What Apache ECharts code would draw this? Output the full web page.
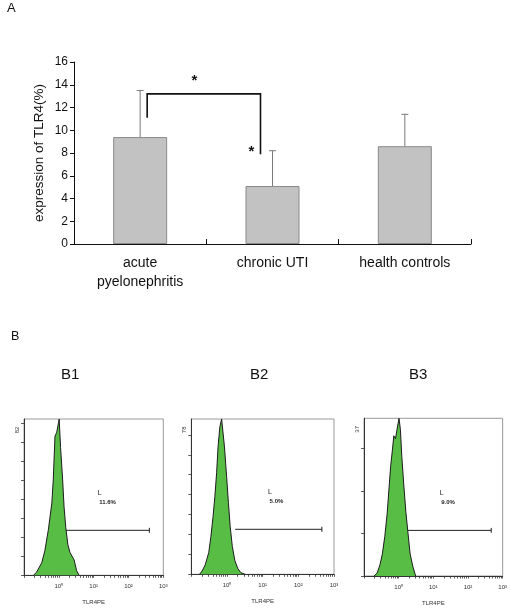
<!DOCTYPE html>
<html>
<head>
<meta charset="utf-8">
<script src="https://cdn.jsdelivr.net/npm/echarts@6/dist/echarts.min.js"></script>
<style>
html,body{margin:0;padding:0;background:#fff;}
#c{width:510px;height:610px;}
</style>
</head>
<body>
<div id="c"></div>
<script>
// ---------- Panel A data ----------
const categories = ['acute\npyelonephritis', 'chronic UTI', 'health controls'];
const means = [9.4, 5.1, 8.6];
const errors = [4.1, 3.1, 2.8];
const yTicksA = [0, 2, 4, 6, 8, 10, 12, 14, 16];
// significance bracket (values): left foot, top, right foot
const bracketLeftY = 11.1;
const bracketTopY = 13.2;
const bracketRightY = 7.9;
// stars: [fractional category index, value]
const starPos = [[0.41, 14.3], [0.84, 8.1]];

// ---------- Panel B data (x = log10 fluorescence, y = counts) ----------
const histTitles = ['B1', 'B2', 'B3'];
const histMax = [82, 78, 37];
const b1X = [-0.73,-0.64,-0.49,-0.40,-0.30,-0.20,-0.16,-0.11,-0.06,-0.01,0.01,0.05,0.11,0.15,0.20,0.26,0.32,0.37,0.44,0.51,0.58];
const b1Y = [0,1.6,6.6,13,24,38,50,73,75,80,82,67,50,36,25,16,12,13,8,2.5,0];
const b2X = [-0.77,-0.70,-0.61,-0.51,-0.45,-0.39,-0.34,-0.29,-0.25,-0.20,-0.15,-0.11,-0.07,-0.01,0.04,0.09,0.15,0.22,0.30,0.39,0.51];
const b2Y = [0,1.6,4.7,11,19,29,39,51,64,74,78,77,64,49,36,24,14,7,3,0.8,0];
const b3X = [-0.71,-0.62,-0.54,-0.47,-0.40,-0.33,-0.28,-0.23,-0.18,-0.14,-0.09,-0.07,-0.03,0.01,0.05,0.09,0.15,0.21,0.27,0.33,0.41,0.49];
const b3Y = [0,0.7,2.6,5.2,9.3,14.8,20.4,25.9,29.6,32.9,32.2,33.3,35.2,37,34.4,28.1,21.1,14.8,10,5.2,2.2,0];
const gateStart = [0.21, 0.23, 0.27];
const gateEnd = [2.60, 2.66, 2.67];
const gateY = [23.6, 22.6, 10.7];
const gatePct = ['11.6%', '5.0%', '9.0%'];
const decadeLabels = ['10\u2070', '10\u00b9', '10\u00b2', '10\u00b3'];
const xAxisNameB = 'TLR4PE';

const FONT = '"Liberation Sans", Arial, sans-serif';
const histX = [b1X, b2X, b3X];
const histY = [b1Y, b2Y, b3Y];

const chart = echarts.init(document.getElementById('c'), null, {renderer: 'canvas'});

const grids = [
  {left: 74, right: 39, top: 62, bottom: 366},
  {left: 24, right: 346.7, top: 419, bottom: 34.7, show: true, borderColor: '#9a9a9a', borderWidth: 1},
  {left: 191.3, right: 176, top: 419, bottom: 35.7, show: true, borderColor: '#9a9a9a', borderWidth: 1},
  {left: 364, right: 3.3, top: 418.3, bottom: 34, show: true, borderColor: '#9a9a9a', borderWidth: 1}
];

const xAxes = [{
  type: 'category', gridIndex: 0, data: categories, boundaryGap: true,
  axisLine: {lineStyle: {color: '#111', width: 1}},
  axisTick: {show: true, inside: true, length: 5, alignWithLabel: false, lineStyle: {color: '#111'}},
  axisLabel: {color: '#111', fontSize: 14, fontFamily: FONT, lineHeight: 19, margin: 10}
}];
const yAxes = [{
  type: 'value', gridIndex: 0, min: yTicksA[0], max: yTicksA[yTicksA.length - 1], interval: yTicksA[1] - yTicksA[0],
  name: 'expression of TLR4(%)', nameLocation: 'middle', nameGap: 28, nameRotate: 90, nameMoveOverlap: false,
  nameTextStyle: {color: '#111', fontSize: 13.5, fontFamily: FONT},
  axisLine: {show: true, lineStyle: {color: '#111', width: 1}},
  axisTick: {show: true, length: 4, lineStyle: {color: '#111'}},
  axisLabel: {color: '#111', fontSize: 12, fontFamily: FONT, margin: 6},
  splitLine: {show: false}
}];

// minor log ticks
const minorTicks = [];
for (let d = -1; d < 3; d++) {
  for (let k = 1; k <= 9; k++) minorTicks.push(d + Math.log10(k));
}
minorTicks.push(3);

for (let i = 0; i < 3; i++) {
  xAxes.push({
    type: 'value', gridIndex: i + 1, min: -1, max: 3, interval: 1,
    name: xAxisNameB, nameLocation: 'middle', nameGap: 24,
    nameTextStyle: {color: '#333', fontSize: 6, fontFamily: FONT},
    axisLine: {onZero: false, lineStyle: {color: '#333', width: 1}},
    axisTick: {show: true, length: 2.5, customValues: minorTicks, lineStyle: {color: '#333', width: 0.8}},
    axisLabel: {color: '#333', fontSize: 6, fontFamily: FONT, margin: 8,
      formatter: v => (v >= 0 ? decadeLabels[Math.round(v)] : '')},
    splitLine: {show: false}
  });
  const tv = [];
  for (let t = 0; t <= histMax[i]; t += 10) tv.push(t);
  yAxes.push({
    type: 'value', gridIndex: i + 1, min: 0, max: histMax[i], interval: 10,
    axisLine: {show: true, onZero: false, lineStyle: {color: '#333', width: 1}},
    axisTick: {show: true, length: 3, customValues: tv, lineStyle: {color: '#333', width: 0.8}},
    axisLabel: {show: true, rotate: 90, fontSize: 6, color: '#333', fontFamily: FONT, margin: 4,
      customValues: [histMax[i] * 0.93], formatter: () => String(histMax[i])},
    splitLine: {show: false}
  });
}

const series = [];
series.push({
  type: 'bar', xAxisIndex: 0, yAxisIndex: 0, data: means, barWidth: 54,
  itemStyle: {color: '#c2c2c2', borderColor: '#8a8a8a', borderWidth: 1},
  silent: true, z: 2
});
// error bars
series.push({
  type: 'custom', xAxisIndex: 0, yAxisIndex: 0, z: 3, silent: true,
  data: means.map((m, i) => [i, m, errors[i]]),
  renderItem: function (params, api) {
    const i = api.value(0), m = api.value(1), e = api.value(2);
    const p0 = api.coord([i, m]);
    const p1 = api.coord([i, m + e]);
    const st = {stroke: '#7a7a7a', lineWidth: 1};
    return {type: 'group', children: [
      {type: 'line', shape: {x1: p0[0], y1: p0[1], x2: p1[0], y2: p1[1]}, style: st},
      {type: 'line', shape: {x1: p1[0] - 3.5, y1: p1[1], x2: p1[0] + 3.5, y2: p1[1]}, style: st}
    ]};
  }
});
// significance bracket + stars
series.push({
  type: 'custom', xAxisIndex: 0, yAxisIndex: 0, z: 4, silent: true,
  data: [[0, bracketLeftY, bracketTopY, bracketRightY]],
  renderItem: function (params, api) {
    const a = api.coord([0, api.value(1)]);
    const t0 = api.coord([0, api.value(2)]);
    const b = api.coord([1, api.value(3)]);
    const xl = a[0] + 7, xr = b[0] - 12;
    const st = {stroke: '#111', lineWidth: 1.6, fill: null};
    const children = [
      {type: 'polyline', shape: {points: [[xl, a[1]], [xl, t0[1]], [xr, t0[1]], [xr, b[1]]]}, style: st}
    ];
    starPos.forEach(s => {
      const c0 = api.coord([0, s[1]]), c1 = api.coord([1, s[1]]);
      const x = c0[0] + s[0] * (c1[0] - c0[0]);
      children.push({type: 'text', style: {text: '*', x: x, y: c0[1], fill: '#111',
        font: 'bold 15px ' + FONT, textAlign: 'center', textVerticalAlign: 'middle'}});
    });
    return {type: 'group', children: children};
  }
});

for (let i = 0; i < 3; i++) {
  series.push({
    type: 'line', xAxisIndex: i + 1, yAxisIndex: i + 1, silent: true,
    data: histX[i].map((x, j) => [x, histY[i][j]]),
    showSymbol: false, smooth: false,
    lineStyle: {color: '#1c1c1c', width: 1},
    areaStyle: {color: '#58bd45', opacity: 1},
    z: 2
  });
  series.push({
    type: 'custom', xAxisIndex: i + 1, yAxisIndex: i + 1, silent: true, z: 3,
    data: [[gateStart[i], gateEnd[i], gateY[i]]],
    renderItem: (function (k) {
      return function (params, api) {
        const ps = api.coord([api.value(0), api.value(2)]);
        const pe = api.coord([api.value(1), api.value(2)]);
        const st = {stroke: '#222', lineWidth: 1};
        const tx = ps[0] + 0.38 * (pe[0] - ps[0]);
        return {type: 'group', children: [
          {type: 'line', shape: {x1: ps[0], y1: ps[1], x2: pe[0], y2: pe[1]}, style: st},
          {type: 'line', shape: {x1: pe[0], y1: pe[1] - 2.5, x2: pe[0], y2: pe[1] + 2.5}, style: st},
          {type: 'text', style: {text: 'L', x: tx, y: ps[1] - 37, fill: '#222', font: '7px ' + FONT, textVerticalAlign: 'middle'}},
          {type: 'text', style: {text: gatePct[k], x: tx + 1.5, y: ps[1] - 28, fill: '#222', font: 'bold 6px ' + FONT, textVerticalAlign: 'middle'}}
        ]};
      };
    })(i)
  });
}

const option = {
  animation: false,
  backgroundColor: '#fff',
  textStyle: {fontFamily: FONT},
  grid: grids,
  xAxis: xAxes,
  yAxis: yAxes,
  series: series,
  graphic: [
    {type: 'text', left: 7, top: 2, style: {text: 'A', font: '13px ' + FONT, fill: '#111'}},
    {type: 'text', left: 11, top: 330, style: {text: 'B', font: '12.5px ' + FONT, fill: '#111'}},
    {type: 'text', left: 61, top: 367, style: {text: histTitles[0], font: '15px ' + FONT, fill: '#111'}},
    {type: 'text', left: 250, top: 367, style: {text: histTitles[1], font: '15px ' + FONT, fill: '#111'}},
    {type: 'text', left: 409, top: 367, style: {text: histTitles[2], font: '15px ' + FONT, fill: '#111'}}
  ]
};
chart.setOption(option);
</script>
</body>
</html>
